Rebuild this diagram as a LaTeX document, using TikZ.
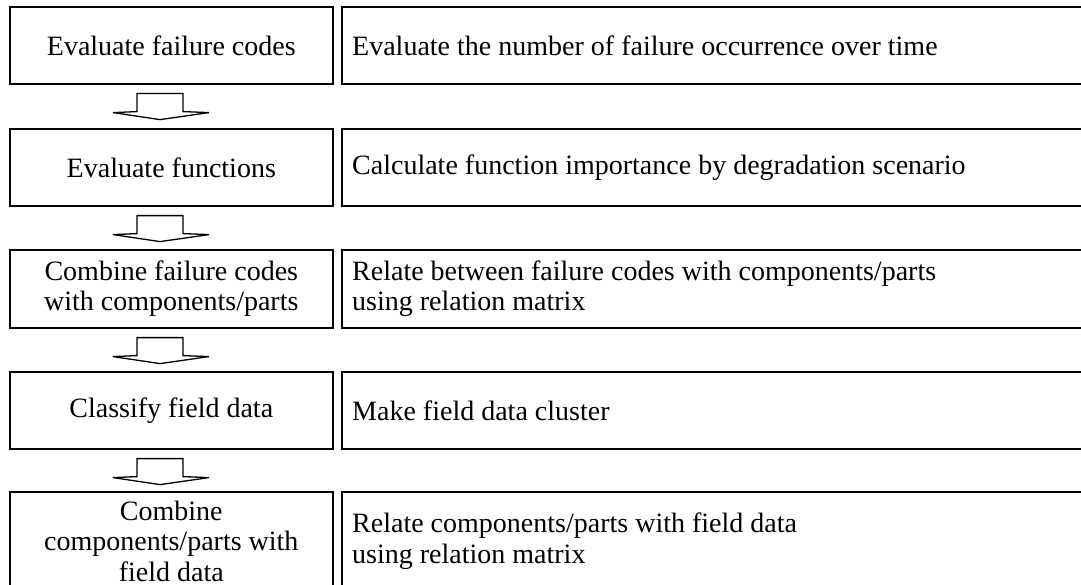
\documentclass[tikz,border=0pt]{standalone}
\usepackage{fontspec}
\setmainfont{Liberation Serif}
\usetikzlibrary{calc}
\begin{document}
\begin{tikzpicture}[x=1bp,y=-1bp,
  every node/.style={font=\fontsize{28bp}{30.5bp}\selectfont},
  lbox/.style={draw, line width=1.6bp, minimum width=323bp, anchor=north west, align=center, inner sep=0pt},
  rbox/.style={draw, line width=1.6bp, minimum width=754bp, anchor=north west, align=left, inner sep=0pt},
  rtext/.style={anchor=west, align=left, inner sep=0pt},
  blockarrow/.pic={\draw[line width=1.3bp, line join=miter] (-23,9) -- (23,9) -- (23,27) -- (49,28) -- (0,35) -- (-47,28) -- (-23,27) -- cycle;}
]
\clip (0,0) rectangle (1081,585);
\fill[white] (0,0) rectangle (1081,585);
% left boxes
\node[lbox, minimum height=77bp] (l1) at (9,6) {Evaluate failure codes};
\node[lbox, minimum height=77bp] (l2) at (9,128) {Evaluate functions};
\node[lbox, minimum height=78bp] (l3) at (9,249) {Combine failure codes\\with components/parts};
\node[lbox, minimum height=77bp] (l4) at (9,371) {Classify field data};
\node[lbox, minimum height=99bp] (l5) at (9,491) {Combine\\components/parts with\\field data};
% right boxes
\node[rbox, minimum height=77bp] (r1) at (341,6) {};
\node[rbox, minimum height=77bp] (r2) at (341,128) {};
\node[rbox, minimum height=78bp] (r3) at (341,249) {};
\node[rbox, minimum height=77bp] (r4) at (341,371) {};
\node[rbox, minimum height=99bp] (r5) at (341,491) {};
\node[rtext] (t1) at ($(r1.west)+(11,0)$) {Evaluate the number of failure occurrence over time};
\node[rtext] (t2) at ($(r2.west)+(11,0)$) {Calculate function importance by degradation scenario};
\node[rtext] (t3) at ($(r3.west)+(11,0)$) {Relate between failure codes with components/parts\\using relation matrix};
\node[rtext] (t4) at ($(r4.west)+(11,0)$) {Make field data cluster};
\node[rtext] (t5) at ($(r5.west)+(11,0)$) {Relate components/parts with field data\\using relation matrix};
% block arrows between left boxes
\foreach \a in {1,2,3,4}{
  \path ($(l\a.south west)+(151,0)$) coordinate (a\a);
  \pic at (a\a) {blockarrow};
}
\end{tikzpicture}
\end{document}
